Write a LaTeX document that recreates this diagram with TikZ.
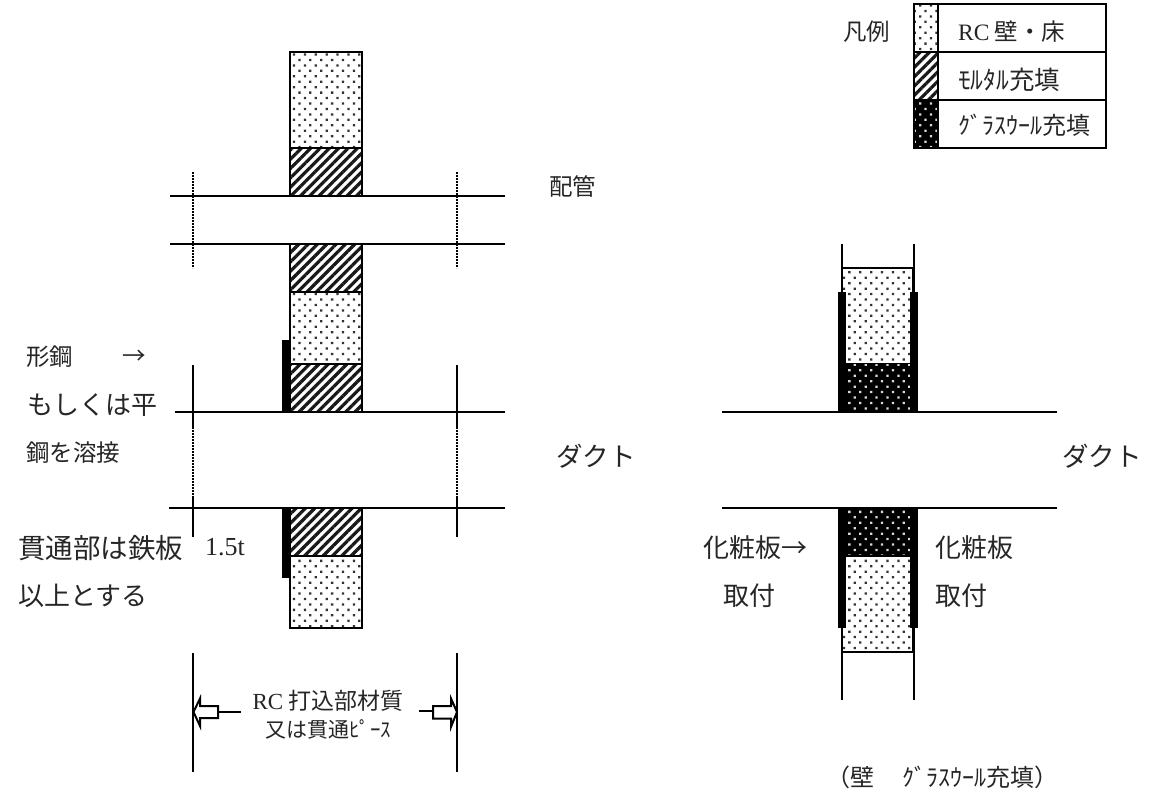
\documentclass[tikz,border=0pt]{standalone}
\usepackage{fontspec}
\setmainfont{Noto Sans CJK JP}
\newfontfamily\latinf{Liberation Serif}
\usetikzlibrary{patterns.meta}
\tikzset{
  x=1pt,y=-1pt,
  ln/.style={line width=2pt,black},
  dotline/.style={line width=2pt,black,dash pattern=on 1.6pt off 1.4pt},
  plate/.style={fill=black,draw=none},
  rcfill/.style={draw=black,line width=2pt,pattern={Dots[angle=45,distance=7.7pt,radius=1.6pt]},pattern color=black!80},
  mortar/.style={draw=black,line width=2pt,pattern={Lines[angle=45,distance=6.6pt,line width=3.2pt]},pattern color=black!90},
  glassbg/.style={fill=black,draw=black,line width=2pt},
  glass/.style={pattern={Dots[angle=45,distance=7.7pt,radius=1.6pt]},pattern color=white!85!black},
  lbl/.style={anchor=west,inner sep=0pt,font=\fontsize{23.5}{24}\selectfont,text=black!85},
  big/.style={lbl,font=\fontsize{26}{26}\selectfont},
  lblc/.style={anchor=center,inner sep=0pt,align=center,font=\fontsize{21}{28}\selectfont,text=black!85},
  hollow/.style={draw=black,line width=2pt,fill=white}
}
\newcommand{\rcbox}[4]{\path[rcfill] (#1,#2) rectangle (#3,#4);}
\newcommand{\mortarbox}[4]{\path[mortar] (#1,#2) rectangle (#3,#4);}
\newcommand{\glassbox}[4]{\path[glassbg] (#1,#2) rectangle (#3,#4);\path[glass] (#1,#2) rectangle (#3,#4);}
\begin{document}
\begin{tikzpicture}
\useasboundingbox (0,0) rectangle (1169,795);
\fill[white] (0,0) rectangle (1169,795);
% left wall
\rcbox{289.5}{52}{362}{148}
\mortarbox{289.5}{148}{362}{196}
\mortarbox{289.5}{244}{362}{292}
\rcbox{289.5}{292}{362}{364}
\mortarbox{289.5}{364}{362}{412}
\mortarbox{289.5}{508}{362}{556}
\rcbox{289.5}{556}{362}{628}
% pipe
\draw[ln] (170,196) -- (505,196);
\draw[ln] (170,244) -- (505,244);
\draw[dotline] (193,172) -- (193,268);
\draw[dotline] (457,172) -- (457,268);
% duct
\draw[ln] (175,412) -- (505,412);
\draw[ln] (169,508) -- (505,508);
\draw[ln] (193,365) -- (193,427);
\draw[dotline] (193,427) -- (193,497);
\draw[ln] (193,497) -- (193,537);
\draw[ln] (457,365) -- (457,427);
\draw[dotline] (457,427) -- (457,497);
\draw[ln] (457,497) -- (457,537);
\fill[plate] (282,340) rectangle (288.5,412);
\fill[plate] (282,507) rectangle (288.5,578);
% width limits and arrows
\draw[ln] (193,653) -- (193,772);
\draw[ln] (457,653) -- (457,772);
\draw[hollow] (193.5,712) -- (200,698.5) -- (200,706) -- (218,706) -- (218,718) -- (200,718) -- (200,726) -- cycle;
\draw[ln] (218,712) -- (241,712);
\draw[hollow] (457,712) -- (451,698.5) -- (451,706) -- (433,706) -- (433,718.5) -- (451,718.5) -- (451,727) -- cycle;
\draw[ln] (419,711) -- (433,711);
% right wall
\draw[ln] (841.5,244) -- (841.5,292);
\draw[ln] (913.5,244) -- (913.5,292);
\draw[ln] (841.5,628) -- (841.5,700);
\draw[ln] (913.5,628) -- (913.5,700);
\rcbox{842}{268}{913}{364}
\glassbox{842}{364}{913}{412}
\glassbox{842}{508}{913}{556}
\rcbox{842}{556}{913}{652}
\fill[plate] (838,292) rectangle (846,412);
\fill[plate] (910,292) rectangle (918,412);
\fill[plate] (838,508) rectangle (846,628);
\fill[plate] (910,508) rectangle (918,628);
\draw[ln] (722,412) -- (1057,412);
\draw[ln] (722,508) -- (1057,508);
% legend
\rcbox{913.5}{4}{938}{52}
\mortarbox{913.5}{52}{938}{100}
\glassbox{913.5}{100}{938}{148}
\draw[ln] (913.5,4) rectangle (1105.5,148);
\draw[ln] (938,4) -- (938,148);
\draw[ln] (913.5,52) -- (1105.5,52);
\draw[ln] (913.5,100) -- (1105.5,100);
% labels
\node[lbl] (hanrei) at (843,32) {凡例};
\node[lbl] (lrc) at (958,32) {{\latinf RC} 壁・床};
\node[lbl,font=\fontsize{25.5}{26}\selectfont] (lmo) at (958,80) {ﾓﾙﾀﾙ充填};
\node[lbl,font=\fontsize{24}{24}\selectfont] (lgl) at (958,125) {ｸﾞﾗｽｳｰﾙ充填};
\node[lbl] (pipe) at (549,187) {配管};
\node[lbl] (t1) at (26,357) {形鋼};
\node[lbl] (t1a) at (122,357) {→};
\node[big] (t2) at (27,405) {もしくは平};
\node[lbl] (t3) at (26,453) {鋼を溶接};
\node[lbl,font=\fontsize{26.5}{26}\selectfont] (d1) at (556,456) {ダクト};
\node[lbl,font=\fontsize{26.5}{26}\selectfont] (d2) at (1062,456) {ダクト};
\node[lbl,font=\fontsize{27.5}{28}\selectfont] (t4) at (18,548) {貫通部は鉄板};
\node[big] (t4b) at (205,547) {\latinf 1.5t};
\node[big] (t5) at (18,596) {以上とする};
\node[lblc] (rc) at (328,715) {{\fontsize{23}{28}\selectfont{\latinf RC} 打込部材質}\\又は貫通ﾋﾟｰｽ};
\node[big] (k1) at (703,548) {化粧板→};
\node[big] (k2) at (723,596) {取付};
\node[big] (k3) at (935,548) {化粧板};
\node[big] (k4) at (935,596) {取付};
\node[lbl,font=\fontsize{24}{24}\selectfont] (cap) at (826,777) {（壁\hspace{1.2em}ｸﾞﾗｽｳｰﾙ充填）};
\end{tikzpicture}
\end{document}
